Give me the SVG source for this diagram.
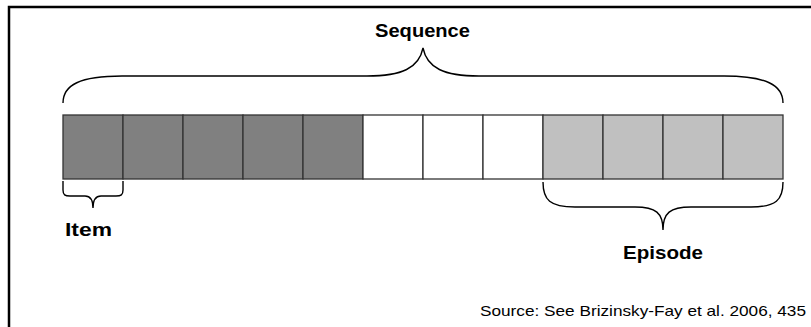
<svg xmlns="http://www.w3.org/2000/svg" width="811" height="327" viewBox="0 0 811 327">
<style>
.cell{stroke:#333;stroke-width:1.3}
.dark{fill:#808080}
.white{fill:#ffffff}
.light{fill:#c0c0c0}
.brace{fill:none;stroke:#000;stroke-width:1.4}
.lbl{font-family:"Liberation Sans",Arial,sans-serif;font-weight:bold;font-size:18px;fill:#000}
.src{font-family:"Liberation Sans",Arial,sans-serif;font-size:15px;fill:#000}
</style>
<rect width="811" height="327" fill="#fff"/>
<path d="M9,327 L9,7 L811,7" fill="none" stroke="#000" stroke-width="2.5"/>
<g id="cells">
<rect id="c1" class="cell dark" x="63" y="115" width="60" height="64"/>
<rect id="c2" class="cell dark" x="123" y="115" width="60" height="64"/>
<rect id="c3" class="cell dark" x="183" y="115" width="60" height="64"/>
<rect id="c4" class="cell dark" x="243" y="115" width="60" height="64"/>
<rect id="c5" class="cell dark" x="303" y="115" width="60" height="64"/>
<rect id="c6" class="cell white" x="363" y="115" width="60" height="64"/>
<rect id="c7" class="cell white" x="423" y="115" width="60" height="64"/>
<rect id="c8" class="cell white" x="483" y="115" width="60" height="64"/>
<rect id="c9" class="cell light" x="543" y="115" width="60" height="64"/>
<rect id="c10" class="cell light" x="603" y="115" width="60" height="64"/>
<rect id="c11" class="cell light" x="663" y="115" width="60" height="64"/>
<rect id="c12" class="cell light" x="723" y="115" width="60" height="64"/>
</g>
<g id="braces">
<path class="brace" d="M63,103 C63,85 80,76 122,76 L367,76 C402,76 419,68 423,48 C427,68 444,76 479,76 L724,76 C766,76 783,85 783,103"/>
<path class="brace" d="M63,181 L63,190 C63,195 65,196 70,196 L85,196 C90,196 93,199 93,208 C93,199 96,196 101,196 L116,196 C121,196 123,195 123,190 L123,181"/>
<path class="brace" d="M543,182 C543,200 550,207 575,207 L635,207 C656,207 663,213 663,230 C663,213 670,207 691,207 L751,207 C776,207 783,200 783,182"/>
</g>
<g id="labels">
<text id="sequence" class="lbl" x="375" y="37" textLength="95" lengthAdjust="spacingAndGlyphs">Sequence</text>
<text id="item" class="lbl" x="65" y="236" textLength="47" lengthAdjust="spacingAndGlyphs">Item</text>
<text id="episode" class="lbl" x="623" y="259" textLength="80" lengthAdjust="spacingAndGlyphs">Episode</text>
<text id="source" class="src" x="480" y="316" textLength="326" lengthAdjust="spacingAndGlyphs">Source: See Brizinsky-Fay et al. 2006, 435</text>
</g>
</svg>
